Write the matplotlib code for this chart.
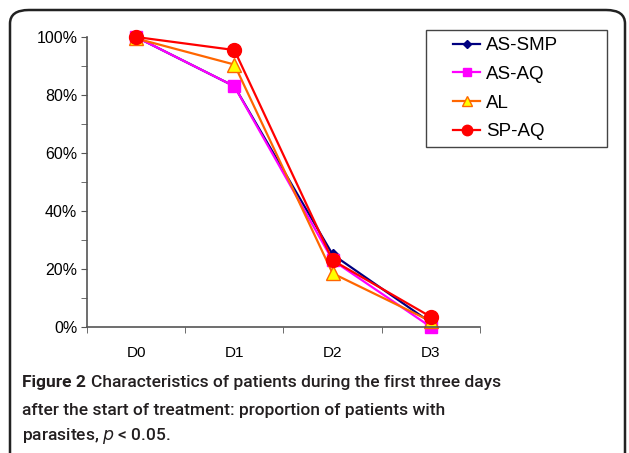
import matplotlib
matplotlib.use("Agg")
import matplotlib.pyplot as plt
from matplotlib.patches import FancyBboxPatch, Rectangle
from matplotlib.ticker import MultipleLocator, FuncFormatter, FixedLocator

categories = ["D0", "D1", "D2", "D3"]
as_smp = [1.00, 0.83, 0.25, 0.015]
as_aq = [1.00, 0.83, 0.23, 0.0]
al = [0.995, 0.905, 0.185, 0.02]
sp_aq = [1.00, 0.955, 0.23, 0.035]
series_names = ["AS-SMP", "AS-AQ", "AL", "SP-AQ"]

W, H = 629, 453
fig = plt.figure(figsize=(W / 100, H / 100), dpi=100)
plt.rcParams['font.family'] = ['Liberation Sans', 'DejaVu Sans']

# rounded frame
frame = FancyBboxPatch((10 / W, -0.2), 615 / W, 1 - 10 / H + 0.2,
                       boxstyle="round,pad=0,rounding_size=0.03",
                       transform=fig.transFigure, fill=False,
                       edgecolor="#222222", linewidth=1.8, clip_on=False)
fig.patches.append(frame)

ax = fig.add_axes([87 / W, 1 - 327 / H, (480 - 87) / W, (327 - 37) / H])
x = list(range(len(categories)))
styles = [
    dict(color="#000080", marker="D", markersize=6, mfc="#000080", mec="#000080"),
    dict(color="#FF00FF", marker="s", markersize=8, mfc="#FF00FF", mec="#FF00FF"),
    dict(color="#FF6600", marker="^", markersize=10, mfc="#FFFF00", mec="#FF6600"),
    dict(color="#FF0000", marker="o", markersize=10, mfc="#FF0000", mec="#FF0000"),
]
for vals, name, st in zip([as_smp, as_aq, al, sp_aq], series_names, styles):
    ax.plot(x, vals, label=name, linewidth=1.6, clip_on=False, **st)

ax.set_xlim(-0.5, 3.5)
ax.set_ylim(0, 1)
ax.xaxis.set_major_locator(FixedLocator(x))
ax.set_xticklabels(categories, fontsize=11)
ax.xaxis.set_minor_locator(FixedLocator([-0.5, 0.5, 1.5, 2.5, 3.5]))
ax.tick_params(axis="x", which="major", length=0, pad=14)
ax.tick_params(axis="x", which="minor", length=4, direction="out", color="#555555")
ax.yaxis.set_major_locator(MultipleLocator(0.2))
ax.yaxis.set_minor_locator(MultipleLocator(0.1))
ax.yaxis.set_major_formatter(FuncFormatter(lambda v, p: f"{v*100:.0f}%"))
ax.tick_params(axis="y", which="both", length=4, direction="out", color="#555555", labelsize=11.5, pad=3)
for s in ["top", "right"]:
    ax.spines[s].set_visible(False)
for s in ["left", "bottom"]:
    ax.spines[s].set_color("#555555")
    ax.spines[s].set_linewidth(1.2)

# legend box drawn separately
fig.patches.append(Rectangle((426 / W, 1 - 147 / H), (607 - 426) / W, (147 - 30) / H,
                             transform=fig.transFigure, fill=False,
                             edgecolor="#444444", linewidth=1.0))
leg = fig.legend(loc="upper left", bbox_to_anchor=(453 / W, 1 - 37 / H),
                 fontsize=13.5, frameon=False, markerscale=0.75,
                 borderpad=0, labelspacing=0.62, handlelength=1.45,
                 borderaxespad=0, handletextpad=0.3)

cap_font = ['Roboto', 'DejaVu Sans']
fig.canvas.draw()
r = fig.canvas.get_renderer()
col = "#231f20"
fs = 12.5
t1 = fig.text(22 / W, 1 - 383 / H, "Figure 2", fontsize=fs, fontweight="bold",
              family=cap_font, va="center", color=col)
bb = t1.get_window_extent(r)
t2 = fig.text(bb.x1 / W + 5 / W, 1 - 383 / H, "Characteristics of patients during the first three days",
              fontsize=fs, fontweight="medium", family=cap_font, va="center", color=col)
t3 = fig.text(22 / W, 1 - 410 / H, "after the start of treatment: proportion of patients with",
              fontsize=fs, fontweight="medium", family=cap_font, va="center", color=col)
t4 = fig.text(22 / W, 1 - 436 / H, "parasites, $\\mathit{p}$ < 0.05.",
              fontsize=fs, fontweight="medium", family=cap_font, va="center", color=col)

fig.savefig("out.png", dpi=100)
